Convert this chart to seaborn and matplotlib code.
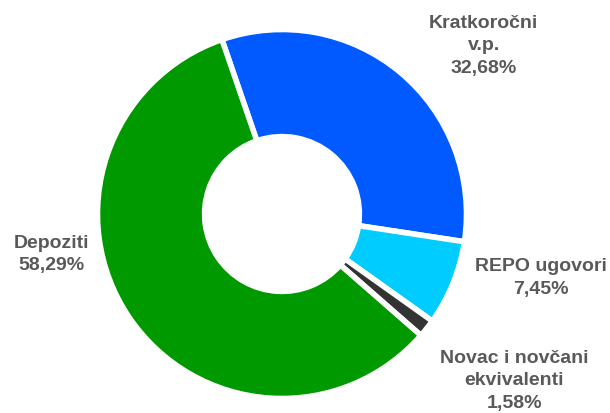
import matplotlib
matplotlib.use("Agg")
import matplotlib.pyplot as plt
import seaborn as sns

sns.set_style("white")
plt.rcParams['font.family'] = ['Liberation Sans', 'DejaVu Sans']

# data
labels = ['Kratkoročni\nv.p.', 'REPO ugovori', 'Novac i novčani\nekvivalenti', 'Depoziti']
shares = [32.68, 7.45, 1.58, 58.29]
colors = ['#005AFF', '#00CCFF', '#333333', '#009900']

# label spots (data units, pie radius = 1)
label_xy = [(1.12, 0.94), (1.44, -0.35), (1.29, -0.92), (-1.28, -0.22)]

fig = plt.figure(figsize=(6.1, 4.14), dpi=100)
ax = fig.add_axes([0, 0, 1, 1])

ax.pie(shares, colors=colors, startangle=109, counterclock=False,
       radius=1.025, wedgeprops=dict(width=0.595, edgecolor='white', linewidth=4))

for lab, val, (x, y) in zip(labels, shares, label_xy):
    txt = lab + '\n' + f'{val:.2f}'.replace('.', ',') + '%'
    ax.text(x, y, txt, ha='center', va='center', multialignment='center',
            fontsize=14, fontweight='bold', color='#595959', linespacing=1.42)

ax.set_xlim(-282 / 180, (610 - 282) / 180)
ax.set_ylim(-(414 - 215) / 180, 215 / 180)
ax.set_aspect('equal')
ax.axis('off')

fig.savefig('out.png', dpi=100)
